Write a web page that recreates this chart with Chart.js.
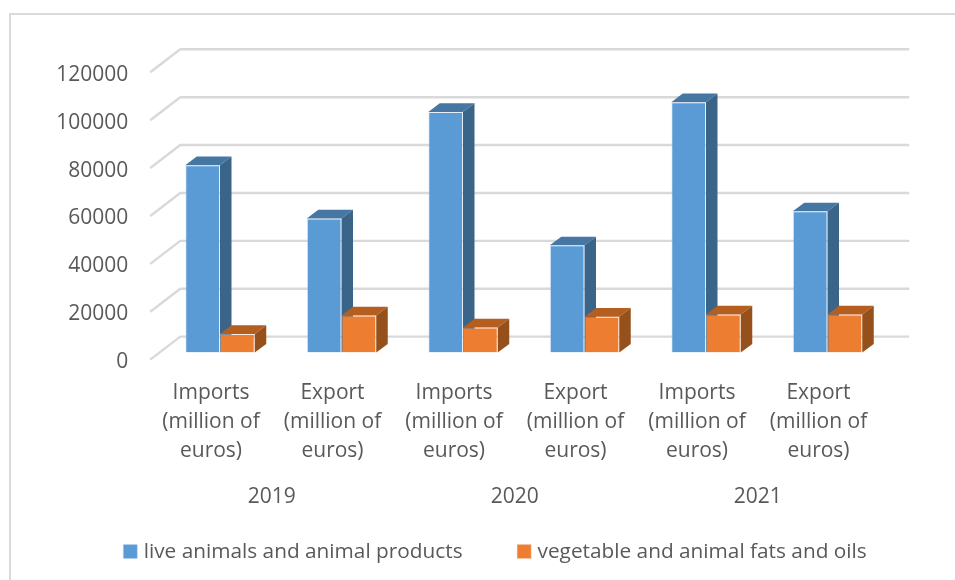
<!DOCTYPE html>
<html>
<head>
<meta charset="utf-8">
<title>Imports and exports</title>
<script src="https://cdn.jsdelivr.net/npm/chart.js@4"></script>
<style>
    body { margin: 0; background: #fff; }
    #frame { position: absolute; left: 9px; top: 13px; right: 0; bottom: 0; border-left: 2px solid #d9d9d9; border-top: 2px solid #d9d9d9; }
    canvas { position: absolute; left: 0; top: 0; }
</style>
</head>
<body>
<div id="frame"></div>
<canvas id="tradeChart" width="955" height="580"></canvas>
<script>
const categories = [
    ['Imports', '(million of', 'euros)'],
    ['Export', '(million of', 'euros)'],
    ['Imports', '(million of', 'euros)'],
    ['Export', '(million of', 'euros)'],
    ['Imports', '(million of', 'euros)'],
    ['Export', '(million of', 'euros)']
];
const years = ['2019', '2020', '2021'];
const liveAnimals = [78300, 56000, 100500, 44800, 104600, 59000];
const fatsAndOils = [7800, 15500, 10500, 15000, 15900, 15900];
const seriesNames = ['live animals and animal products', 'vegetable and animal fats and oils'];

const TEXT = '#595959';
const GRID = '#d9d9d9';
const FONT = { family: 'Open Sans', size: 21 };
// front / side / top face colours per series
const FACES = [
    { front: '#5b9bd5', side: '#3a6589', top: '#4676a2' },
    { front: '#ed7d31', side: '#96501b', top: '#b45e20' }
];

// fake 3D: bars sit mid depth, the wall is behind them and the axis in front
const BAR_DX = 11.5, BAR_DY = 8.7;
const WALL_DX = 21, WALL_DY = 16, FRONT_DX = -9, FRONT_DY = 7;

const depthPlugin = {
    id: 'depth',
    afterLayout(chart) {
        // labels hang outside their boxes, so widen the clip areas
        chart.scales.x.bottom = chart.height;
        chart.scales.x2.bottom = chart.height;
    },
    beforeDatasetsDraw(chart) {
        const { ctx, chartArea, scales } = chart;
        ctx.save();
        ctx.strokeStyle = GRID;
        ctx.lineWidth = 2.4;
        scales.y.ticks.forEach(tick => {
            const y = scales.y.getPixelForValue(tick.value);
            ctx.beginPath();
            ctx.moveTo(chartArea.left + FRONT_DX, y + FRONT_DY);
            ctx.lineTo(chartArea.left + WALL_DX, y - WALL_DY);
            ctx.lineTo(chartArea.right + WALL_DX, y - WALL_DY);
            ctx.stroke();
        });
        chart.data.datasets.forEach((ds, i) => {
            chart.getDatasetMeta(i).data.forEach(bar => {
                const l = bar.x - bar.width / 2, r = bar.x + bar.width / 2;
                // top face
                ctx.fillStyle = FACES[i].top;
                ctx.beginPath();
                ctx.moveTo(l, bar.y);
                ctx.lineTo(l + BAR_DX, bar.y - BAR_DY);
                ctx.lineTo(r + BAR_DX, bar.y - BAR_DY);
                ctx.lineTo(r, bar.y);
                ctx.closePath();
                ctx.fill();
                // side face
                ctx.fillStyle = FACES[i].side;
                ctx.beginPath();
                ctx.moveTo(r, bar.y);
                ctx.lineTo(r + BAR_DX, bar.y - BAR_DY);
                ctx.lineTo(r + BAR_DX, bar.base - BAR_DY);
                ctx.lineTo(r, bar.base);
                ctx.closePath();
                ctx.fill();
            });
        });
        ctx.restore();
    }
};

new Chart(document.getElementById('tradeChart'), {
    type: 'bar',
    data: {
        labels: categories,
        datasets: [
            { label: seriesNames[0], data: liveAnimals, backgroundColor: FACES[0].front, borderColor: 'rgba(190,215,240,0.4)', borderWidth: 1 },
            { label: seriesNames[1], data: fatsAndOils, backgroundColor: FACES[1].front, borderColor: 'rgba(248,205,170,0.4)', borderWidth: 1 }
        ]
    },
    options: {
        responsive: false,
        animation: false,
        layout: { padding: { left: 39, right: 0, top: 65.3, bottom: 8 } },
        datasets: { bar: { barPercentage: 1, categoryPercentage: 0.572 } },
        scales: {
            x: {
                afterFit(scale) { scale.height = 40; },
                grid: { display: false, drawTicks: false },
                border: { display: false },
                ticks: { color: TEXT, font: { ...FONT, lineHeight: 1.37 }, padding: 26, labelOffset: FRONT_DX, maxRotation: 0, autoSkip: false }
            },
            x2: {
                type: 'category',
                labels: years,
                position: 'bottom',
                afterFit(scale) { scale.height = 90; },
                grid: { display: false, drawTicks: false },
                border: { display: false },
                ticks: { color: TEXT, font: FONT, padding: 92, labelOffset: FRONT_DX, maxRotation: 0 }
            },
            y: {
                min: 0,
                max: 120000,
                afterFit(scale) { scale.width = 120.25; },
                grid: { display: false, drawTicks: false },
                border: { display: false },
                ticks: { color: TEXT, font: FONT, stepSize: 20000, padding: 31, labelOffset: 9.5, callback: v => String(v) }
            },
            // empty axis, holds the right margin of the plot without narrowing the legend
            yRight: {
                position: 'right',
                afterFit(scale) { scale.width = 66.75; },
                grid: { display: false, drawTicks: false },
                border: { display: false },
                ticks: { display: false }
            }
        },
        plugins: {
            tooltip: { enabled: false },
            legend: {
                position: 'bottom',
                labels: {
                    color: TEXT,
                    font: { family: 'Open Sans', size: 20.8 },
                    usePointStyle: true,
                    pointStyle: 'rect',
                    boxWidth: 6,
                    boxHeight: 14,
                    padding: 58.6
                }
            }
        }
    },
    plugins: [depthPlugin]
});
</script>
</body>
</html>
